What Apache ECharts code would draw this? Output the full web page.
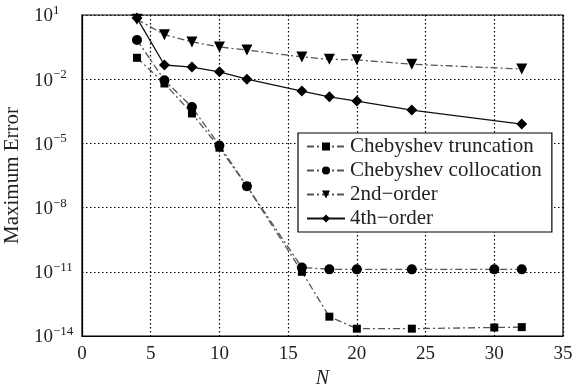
<!DOCTYPE html>
<html>
<head>
<meta charset="utf-8">
<script src="https://cdn.jsdelivr.net/npm/echarts@6/dist/echarts.min.js"></script>
<style>
  html, body { margin: 0; padding: 0; background: #fff; }
  #chart { width: 572px; height: 387px; }
</style>
</head>
<body>
<div id="chart"></div>
<script>
// N values for each series
const nCheb = [4, 6, 8, 10, 12, 16, 18, 20, 24, 30, 32];
const nFd = [4, 6, 8, 10, 12, 16, 18, 20, 24, 32];

// maximum error
const truncation = [0.1, 6.3e-3, 2.5e-4, 6.3e-6, 1e-7, 1e-11, 8e-14, 2.2e-14, 2.2e-14, 2.5e-14, 2.6e-14];
const collocation = [0.68, 9e-3, 5e-4, 8e-6, 1e-7, 1.6e-11, 1.3e-11, 1.3e-11, 1.3e-11, 1.3e-11, 1.3e-11];
const secondOrder = [6.3, 1.2, 0.55, 0.32, 0.23, 0.11, 0.085, 0.08, 0.05, 0.03];
const fourthOrder = [7.2, 0.046, 0.037, 0.022, 0.01, 2.8e-3, 1.5e-3, 9.5e-4, 3.6e-4, 8e-5];

const seriesNames = ['Chebyshev truncation', 'Chebyshev collocation', '2nd\u2212order', '4th\u2212order'];

const pairs = (xs, ys) => xs.map((x, i) => [x, ys[i]]);
const dashDot = [7, 3, 2, 3];
const serif = 'Liberation Serif';

const chart = echarts.init(document.getElementById('chart'));

const mkSeries = (name, data, symbol, opts) => Object.assign({
  name: name,
  type: 'line',
  data: data,
  symbol: symbol,
  symbolSize: 9,
  itemStyle: { color: '#000' },
  lineStyle: { color: '#555', width: 1.3, type: dashDot },
  emphasis: { disabled: true },
  animation: false
}, opts || {});

chart.setOption({
  backgroundColor: '#fff',
  grid: {
    left: 82, right: 9, top: 15, bottom: 51,
    outerBoundsMode: 'none',
    containLabel: false,
    show: true, borderColor: '#000', borderWidth: 1.2
  },
  legend: {
    orient: 'vertical',
    left: 298, top: 133,
    data: seriesNames,
    backgroundColor: '#fff',
    borderColor: '#000',
    borderWidth: 1.2,
    borderRadius: 0,
    padding: [3, 10, 3, 8],
    itemGap: 3,
    itemWidth: 38,
    itemHeight: 10,
    textStyle: { fontFamily: serif, fontSize: 21, color: '#222' }
  },
  xAxis: {
    type: 'value',
    min: 0, max: 35, interval: 5,
    name: 'N',
    nameLocation: 'middle',
    nameGap: 25,
    nameTextStyle: { fontFamily: serif, fontSize: 20, fontStyle: 'italic', color: '#222' },
    axisLine: { lineStyle: { color: '#000', width: 1.2 } },
    axisTick: { show: false },
    axisLabel: { fontFamily: serif, fontSize: 19, color: '#222', margin: 9 },
    splitLine: { lineStyle: { color: '#000', type: [1.5, 2.5], width: 1.2 } }
  },
  yAxis: {
    type: 'log',
    logBase: 10,
    min: 1e-14, max: 10, interval: 3,
    name: 'Maximum Error',
    nameLocation: 'middle',
    nameGap: 56,
    nameTextStyle: { fontFamily: serif, fontSize: 21, color: '#222' },
    axisLine: { lineStyle: { color: '#000', width: 1.2 } },
    axisTick: { show: false },
    axisLabel: {
      align: 'left',
      margin: 48,
      formatter: function (v) {
        const e = Math.round(Math.log10(v));
        return '{b|10}{s|' + String(e).replace('-', '\u2212') + '}';
      },
      rich: {
        b: { fontFamily: serif, fontSize: 19, color: '#222', lineHeight: 22, verticalAlign: 'bottom' },
        s: { fontFamily: serif, fontSize: 13, color: '#222', lineHeight: 22, verticalAlign: 'top', padding: [0, 0, 8, 0] }
      }
    },
    splitLine: { lineStyle: { color: '#000', type: [1.5, 2.5], width: 1.2 } }
  },
  series: [
    mkSeries(seriesNames[0], pairs(nCheb, truncation), 'rect', { symbolSize: 8 }),
    mkSeries(seriesNames[1], pairs(nCheb, collocation), 'circle', { symbolSize: 10 }),
    mkSeries(seriesNames[2], pairs(nFd, secondOrder), 'triangle', { symbolRotate: 180, symbolSize: 11 }),
    mkSeries(seriesNames[3], pairs(nFd, fourthOrder), 'diamond', {
      symbolSize: 11,
      lineStyle: { color: '#111', width: 1.3, type: 'solid' }
    })
  ]
});
</script>
</body>
</html>
